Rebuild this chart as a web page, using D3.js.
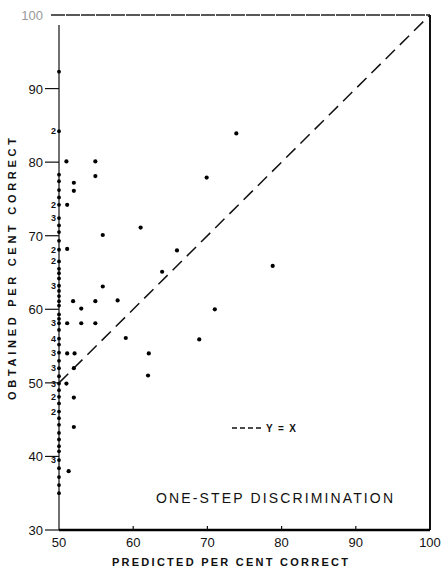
<!DOCTYPE html>
<html>
<head>
<meta charset="utf-8">
<script src="https://cdn.jsdelivr.net/npm/d3@7"></script>
<style>
  body { margin: 0; background: #fff; }
  svg text { font-family: 'Liberation Sans', Arial, sans-serif; fill: #111; }
</style>
</head>
<body>
<svg id="chart" width="446" height="571"></svg>
<script>
'use strict';

// points off the x=50 column
var predicted = [51.0, 54.9, 54.9, 52.0, 52.0, 51.1, 73.9, 69.9, 61.0, 55.9,
  51.1, 65.9, 63.9, 78.8, 55.9, 51.9, 54.9, 57.9, 53.0, 71.0,
  51.1, 53.0, 54.9, 59.0, 68.9, 62.1, 51.1, 52.1, 62.0, 52.0,
  51.0, 52.0, 52.0, 51.3];
var obtained = [80.1, 80.1, 78.1, 77.2, 76.1, 74.2, 83.9, 77.9, 71.1, 70.1,
  68.2, 68.0, 65.1, 65.9, 63.1, 61.1, 61.1, 61.2, 60.1, 60.0,
  58.1, 58.1, 58.1, 56.1, 55.9, 54.0, 54.0, 54.0, 51.0, 52.0,
  49.9, 48.0, 44.0, 38.0];

// points sitting on predicted = 50, with multiplicity labels
var axisObtained = [92.3, 84.2, 78.3, 77.4, 76.2, 75.2, 74.2, 72.4, 71.4, 70.5,
  69.3, 68.1, 66.5, 65.5, 64.9, 64.2, 63.2, 62.5, 61.8, 61.1,
  60.5, 59.3, 58.7, 58.1, 57.2, 56.0, 55.2, 54.1, 53.0, 52.0,
  50.9, 49.9, 49.0, 48.1, 47.2, 46.1, 45.2, 44.3, 43.2, 42.3,
  41.4, 40.7, 39.5, 38.4, 37.2, 36.1, 35.0];
var axisCounts = ['', '2', '', '', '', '', '2', '3', '', '',
  '', '2', '2', '', '', '', '3', '', '', '',
  '', '', '', '3', '', '4', '', '3', '', '3',
  '', '3', '', '2', '', '2', '', '', '', '',
  '', '', '3', '', '', '', ''];

var xTicks = [50, 60, 70, 80, 90, 100];
var yTicks = [30, 40, 50, 60, 70, 80, 90, 100];
var diagonal = [[50, 50], [100, 100]];

var x = d3.scaleLinear().domain([50, 100]).range([59, 430]);
var y = d3.scaleLinear().domain([30, 100]).range([530, 15]);

var svg = d3.select('#chart');

// frame: top and right sides
svg.append('line')
  .attr('x1', x(50) - 8).attr('x2', x(100))
  .attr('y1', y(100)).attr('y2', y(100))
  .style('stroke', '#222').style('stroke-width', 1.6)
  .style('stroke-dasharray', '14,1');
svg.append('line')
  .attr('x1', x(100)).attr('x2', x(100))
  .attr('y1', y(100)).attr('y2', y(30))
  .style('stroke', '#111').style('stroke-width', 2);

// left axis
svg.append('line')
  .attr('x1', x(50)).attr('x2', x(50))
  .attr('y1', y(100) + 10).attr('y2', y(30))
  .style('stroke', '#111').style('stroke-width', 1.2);

// bottom axis
svg.append('line')
  .attr('x1', x(50)).attr('x2', x(100))
  .attr('y1', y(30)).attr('y2', y(30))
  .style('stroke', '#000').style('stroke-width', 2.6);

// y ticks
svg.selectAll('line.ytick').data(yTicks.slice(0, -1)).enter()
  .append('line').classed('ytick', true)
  .attr('x1', x(50) - 14).attr('x2', x(50))
  .attr('y1', function (d) { return y(d); })
  .attr('y2', function (d) { return y(d); })
  .style('stroke', '#111').style('stroke-width', 1.2);

svg.selectAll('text.ylab').data(yTicks).enter()
  .append('text').classed('ylab', true)
  .attr('x', x(50) - 16)
  .attr('y', function (d) { return y(d) + 5; })
  .attr('text-anchor', 'end')
  .style('font-size', '13px')
  .style('fill', function (d) { return d === 100 ? '#999' : '#111'; })
  .text(function (d) { return d; });

// x ticks (pointing up into the plot)
svg.selectAll('line.xtick').data(xTicks.slice(1, -1)).enter()
  .append('line').classed('xtick', true)
  .attr('x1', function (d) { return x(d); })
  .attr('x2', function (d) { return x(d); })
  .attr('y1', y(30)).attr('y2', y(30) - 4)
  .style('stroke', '#111').style('stroke-width', 1.2);

svg.selectAll('text.xlab').data(xTicks).enter()
  .append('text').classed('xlab', true)
  .attr('x', function (d) { return x(d); })
  .attr('y', y(30) + 17)
  .attr('text-anchor', 'middle')
  .style('font-size', '13px')
  .text(function (d) { return d; });

// y = x reference line
var line = d3.line()
  .x(function (d) { return x(d[0]); })
  .y(function (d) { return y(d[1]); });

svg.append('path')
  .attr('d', line(diagonal))
  .style('fill', 'none')
  .style('stroke', '#111')
  .style('stroke-width', 1.5)
  .style('stroke-dasharray', '13,7');

// points
svg.selectAll('circle.pt').data(predicted).enter()
  .append('circle').classed('pt', true)
  .attr('cx', function (d) { return x(d); })
  .attr('cy', function (d, i) { return y(obtained[i]); })
  .attr('r', 2.1)
  .style('fill', '#000');

svg.selectAll('circle.ax').data(axisObtained).enter()
  .append('circle').classed('ax', true)
  .attr('cx', x(50))
  .attr('cy', function (d) { return y(d); })
  .attr('r', 1.9)
  .style('fill', '#000');

svg.selectAll('text.cnt').data(axisObtained).enter()
  .append('text').classed('cnt', true)
  .attr('x', x(50) - 3)
  .attr('y', function (d) { return y(d) + 3; })
  .attr('text-anchor', 'end')
  .style('font-size', '9px')
  .style('font-weight', 'bold')
  .text(function (d, i) { return axisCounts[i]; });

// legend
svg.append('line')
  .attr('x1', 232).attr('x2', 263)
  .attr('y1', 428).attr('y2', 428)
  .style('stroke', '#111').style('stroke-width', 1.5)
  .style('stroke-dasharray', '5,3');
svg.append('text')
  .attr('x', 266).attr('y', 432)
  .style('font-size', '10px')
  .style('font-weight', 'bold')
  .attr('textLength', 30)
  .text('Y=X');

svg.append('text')
  .attr('x', 156).attr('y', 503)
  .attr('textLength', 237)
  .attr('lengthAdjust', 'spacing')
  .style('font-size', '14px')
  .text('ONE-STEP DISCRIMINATION');

// axis titles
svg.append('text')
  .attr('x', 112).attr('y', 566)
  .attr('textLength', 236)
  .attr('lengthAdjust', 'spacing')
  .style('font-size', '11px')
  .style('font-weight', 'bold')
  .text('PREDICTED PER CENT CORRECT');

svg.append('text')
  .attr('transform', 'translate(16,400) rotate(-90)')
  .attr('textLength', 262)
  .attr('lengthAdjust', 'spacing')
  .style('font-size', '11px')
  .style('font-weight', 'bold')
  .text('OBTAINED PER CENT CORRECT');
</script>
</body>
</html>
